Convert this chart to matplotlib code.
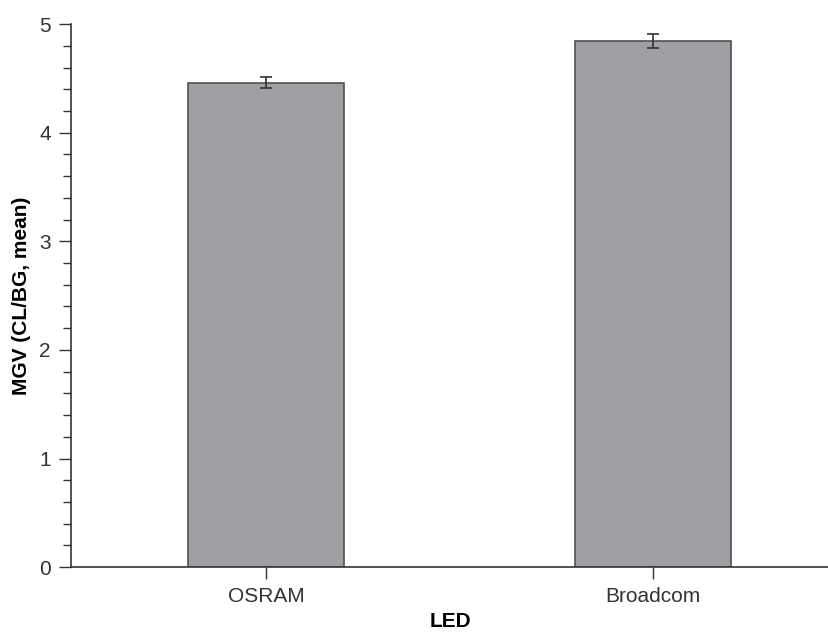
import matplotlib
matplotlib.use('Agg')
import matplotlib.pyplot as plt
from matplotlib.ticker import MultipleLocator

leds = ['OSRAM', 'Broadcom']
mgv_mean = [4.46, 4.84]
mgv_err = [0.05, 0.065]

plt.rcParams['font.family'] = ['Liberation Sans', 'DejaVu Sans']

fig = plt.figure(figsize=(8.29, 6.33), dpi=100)
ax = fig.add_axes([0.0856, 0.104, 0.9144, 0.858])

x = range(len(leds))
ax.bar(x, mgv_mean, width=0.403, color='#a09fa4', edgecolor='#505050', linewidth=1.2,
       yerr=mgv_err, error_kw=dict(ecolor='#333333', elinewidth=1.2, capsize=4, capthick=1.2))

ax.set_xlim(-0.504, 1.455)
ax.set_ylim(0, 5)
ax.set_xticks(list(x))
ax.set_xticklabels(leds)
ax.yaxis.set_major_locator(MultipleLocator(1))
ax.yaxis.set_minor_locator(MultipleLocator(0.2))

for s in ['top', 'right']:
    ax.spines[s].set_visible(False)
for s in ['left', 'bottom']:
    ax.spines[s].set_color('#333333')
    ax.spines[s].set_linewidth(1.2)

ax.tick_params(axis='both', which='major', length=8.5, width=1, color='#333333',
               labelsize=15, labelcolor='#333333', pad=6)
ax.tick_params(axis='y', which='minor', length=5.5, width=1, color='#333333')

ax.set_xlabel('LED', fontsize=15, fontweight='bold', labelpad=4)
ax.set_ylabel('MGV (CL/BG, mean)', fontsize=15, fontweight='bold', labelpad=6)

fig.savefig('out.png', dpi=100)
